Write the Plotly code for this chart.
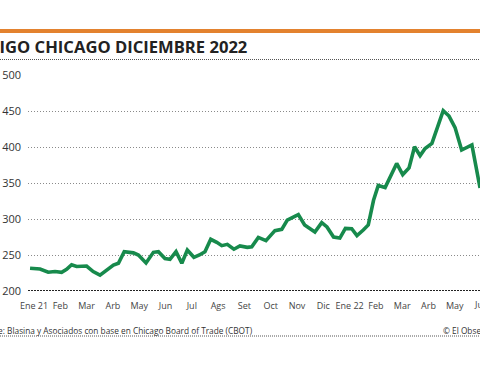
import plotly.graph_objects as go

# Data: months since Jan 2021 (evenly spaced month axis) and price (USD/t)
mes = [-0.15, 0.23, 0.54, 0.80, 1.05, 1.24, 1.43, 1.62, 2.00, 2.25, 2.51, 2.76, 3.02, 3.21,
       3.43, 3.78, 3.97, 4.26, 4.54, 4.73, 4.98, 5.17, 5.40, 5.62, 5.83, 6.08, 6.29, 6.50,
       6.72, 6.95, 7.14, 7.35, 7.60, 7.83, 8.11, 8.28, 8.53, 8.82, 9.16, 9.42, 9.63, 10.05,
       10.29, 10.68, 10.94, 11.14, 11.39, 11.63, 11.84, 12.08, 12.28, 12.52, 12.71, 12.91,
       13.09, 13.35, 13.60, 13.79, 14.02, 14.26, 14.47, 14.68, 14.87, 15.13, 15.56, 15.78,
       16.01, 16.26, 16.65, 16.96]
precio = [231.5, 230.5, 226, 227, 226, 230, 236.5, 234, 234.7, 227, 222, 229, 236, 238.5,
          254.6, 253, 250, 239, 253.7, 254.6, 245, 244, 254.6, 238.5, 257, 246.8, 250, 254.6,
          271.8, 267.6, 263, 264.8, 258, 262.5, 260.6, 261.5, 274.5, 270, 283.8, 285.6, 298.6, 306,
          291.7, 282, 295, 289, 275, 273.5, 287, 286.5, 277, 284.7, 291.7, 326,
          346.5, 343.7, 362, 377.2, 361.7, 371, 400.4, 388, 398, 405, 450.4, 443,
          427, 395.8, 402.8, 343]

tick_pos = list(range(17))
tick_labels = ["Ene 21", "Feb", "Mar", "Arb", "May", "Jun", "Jul", "Ags", "Set", "Oct",
               "Nov", "Dic", "Ene 22", "Feb", "Mar", "Arb", "May"]
y_ticks = [200, 250, 300, 350, 400, 450, 500]

titulo = "TRIGO CHICAGO DICIEMBRE 2022"
fuente = "Fuente: Blasina y Asociados con base en Chicago Board of Trade (CBOT)"
credito = "© El Observador"

W, H = 480, 365
L, R, T, B = 28, 0, 75, 74
pw, ph = W - L - R, H - T - B

def px_x(px):
    return (px - L) / pw

def px_y(py):
    return (H - B - py) / ph

FONT = "Open Sans"

fig = go.Figure()
fig.add_trace(go.Scatter(x=mes, y=precio, mode="lines",
                         line=dict(color="#178a4c", width=3.6, shape="linear"),
                         hoverinfo="skip", showlegend=False))

fig.update_layout(
    width=W, height=H,
    margin=dict(l=L, r=R, t=T, b=B),
    paper_bgcolor="white", plot_bgcolor="white",
    font=dict(family=FONT, color="#333"),
    xaxis=dict(range=[-0.228, 16.958], tickvals=tick_pos, ticktext=tick_labels,
               showgrid=False, zeroline=False, showline=False, ticks="",
               tickfont=dict(size=9, color="#444", family=FONT), ticklabelstandoff=8),
    yaxis=dict(range=[200, 500], tickvals=y_ticks, showgrid=True, griddash="1px,2px",
               gridcolor="#8a8a8a", gridwidth=1, zeroline=False, showline=False, ticks="",
               tickfont=dict(size=11, color="#333", family=FONT), ticklabelstandoff=6),
)

# baseline at 200
fig.add_shape(type="line", xref="paper", yref="y", x0=0, x1=1, y0=200, y1=200,
              line=dict(color="#222", width=2, dash="2px,1px"), layer="above")
# orange header bar
fig.add_shape(type="line", xref="paper", yref="paper", x0=px_x(0), x1=px_x(480),
              y0=px_y(31), y1=px_y(31), line=dict(color="#e3822f", width=4))
# dotted line under title
fig.add_shape(type="line", xref="paper", yref="paper", x0=px_x(0), x1=px_x(480),
              y0=px_y(59.5), y1=px_y(59.5), line=dict(color="#555", width=1, dash="1px,1px"))
# dotted line under source
fig.add_shape(type="line", xref="paper", yref="paper", x0=px_x(0), x1=px_x(480),
              y0=px_y(336), y1=px_y(336), line=dict(color="#555", width=1, dash="1px,1px"))

fig.add_annotation(text=f"<b>{titulo}</b>", xref="paper", yref="paper",
                   x=px_x(248.5), y=px_y(46.5), xanchor="right", yanchor="middle",
                   showarrow=False, font=dict(size=16.6, color="#222", family=FONT))
fig.add_annotation(text=fuente, xref="paper", yref="paper",
                   x=px_x(255), y=px_y(330), xanchor="right", yanchor="middle",
                   showarrow=False, font=dict(size=8.3, color="#333", family=FONT))
fig.add_annotation(text=credito, xref="paper", yref="paper",
                   x=px_x(441), y=px_y(330), xanchor="left", yanchor="middle",
                   showarrow=False, font=dict(size=8.3, color="#333", family=FONT))
fig.add_annotation(text="Jun", xref="paper", yref="paper",
                   x=px_x(481), y=px_y(304), xanchor="center", yanchor="middle",
                   showarrow=False, font=dict(size=9, color="#444", family=FONT))

fig.write_html("out.html", config={"displayModeBar": False},
               post_script="document.body.style.margin='0';")
